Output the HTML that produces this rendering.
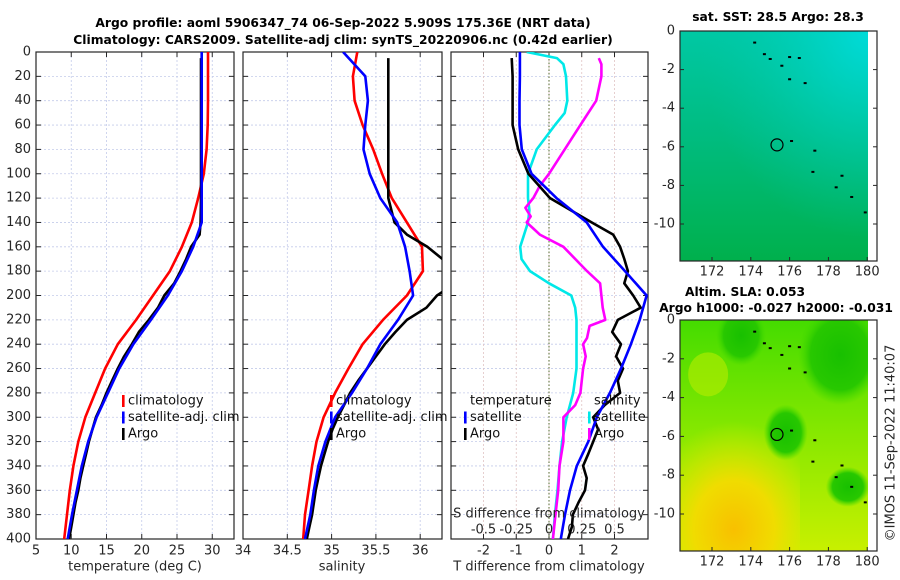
<!DOCTYPE html>
<html><head><meta charset="utf-8"><style>
html,body{margin:0;padding:0;background:#fff;width:900px;height:580px;overflow:hidden}
svg{display:block;font-family:"DejaVu Sans","Liberation Sans",sans-serif}
</style></head><body>
<svg id="fig" width="900" height="580" viewBox="0 0 900 580" xmlns="http://www.w3.org/2000/svg">
<defs>
<linearGradient id="sstg" x1="0" y1="0" x2="0" y2="1">
<stop offset="0" stop-color="#00c8a4"/><stop offset="0.45" stop-color="#00bc80"/><stop offset="1" stop-color="#00b04c"/>
</linearGradient>
<radialGradient id="sstc" cx="1" cy="0" r="0.9">
<stop offset="0" stop-color="#00dcdc" stop-opacity="0.95"/><stop offset="0.5" stop-color="#00d4c8" stop-opacity="0.45"/><stop offset="1" stop-color="#00c8b0" stop-opacity="0"/>
</radialGradient>
<linearGradient id="slag" x1="0" y1="0" x2="0" y2="1">
<stop offset="0" stop-color="#44dc00"/><stop offset="0.5" stop-color="#88e800"/><stop offset="1" stop-color="#c8f000"/>
</linearGradient>
<radialGradient id="slao" cx="0.45" cy="0.85" r="0.75">
<stop offset="0" stop-color="#f8c000"/><stop offset="0.45" stop-color="#f0dc00"/><stop offset="1" stop-color="#d8ec00" stop-opacity="0"/>
</radialGradient>
<radialGradient id="slad" cx="0.5" cy="0.5" r="0.5">
<stop offset="0" stop-color="#18c000"/><stop offset="0.7" stop-color="#28c800"/><stop offset="1" stop-color="#40d800" stop-opacity="0"/>
</radialGradient>
<clipPath id="c1"><rect x="36" y="52" width="198" height="487"/></clipPath>
<clipPath id="c2"><rect x="243" y="52" width="199" height="487"/></clipPath>
<clipPath id="c3"><rect x="451" y="52" width="197" height="487"/></clipPath>
<clipPath id="cm1"><rect x="680" y="31" width="188" height="230"/></clipPath>
<clipPath id="cm2"><rect x="680" y="320" width="188" height="231"/></clipPath>
</defs>
<g id="root"></g>
</svg>
<script>
// ---- data ----
const depths = [0,20,40,60,80,100,120,140,160,180,200,220,240,260,280,300,320,340,360,380,400];
const tempClim = [29.4,29.4,29.4,29.35,29.2,28.8,28.0,27.1,25.7,24.0,21.6,19.2,16.6,14.8,13.4,12.0,11.0,10.3,9.8,9.4,9.0];
const tempSat  = [28.5,28.5,28.5,28.5,28.5,28.5,28.5,28.5,27.3,25.7,23.7,21.3,18.8,16.8,15.2,13.6,12.4,11.5,10.8,10.1,9.5];
const argoDepths = [5,20,40,60,80,100,120,140,150,160,170,180,190,200,210,220,230,240,250,260,270,280,290,300,310,320,330,340,350,360,370,380,390,400];
const tempArgo = [28.4,28.4,28.4,28.4,28.4,28.4,28.4,28.35,28.2,27.0,26.3,25.5,24.6,23.2,22.3,21.0,19.6,18.6,17.5,16.6,15.8,15.0,14.3,13.5,13.0,12.5,12.1,11.7,11.3,11.0,10.6,10.3,10.0,9.7];
const salClim = [35.29,35.24,35.26,35.35,35.47,35.57,35.68,35.85,36.02,36.03,35.85,35.58,35.35,35.19,35.04,34.91,34.83,34.78,34.74,34.70,34.68];
const salSat  = [35.13,35.38,35.41,35.38,35.36,35.43,35.55,35.74,35.83,35.88,35.92,35.75,35.55,35.40,35.23,35.04,34.93,34.85,34.80,34.76,34.70];
const salArgo = [35.64,35.64,35.64,35.64,35.64,35.64,35.64,35.71,35.85,36.08,36.25,36.45,36.40,36.19,36.07,35.85,35.72,35.60,35.50,35.40,35.30,35.21,35.14,35.07,35.01,34.96,34.92,34.88,34.85,34.82,34.80,34.78,34.75,34.72];
const dT_sat  = [-0.89,-0.89,-0.9,-0.9,-0.83,-0.53,0.23,1.15,1.65,2.32,2.98,2.77,2.5,2.2,1.86,1.46,1.2,0.85,0.64,0.49,0.36];
const dT_argo = [-1.14,-1.11,-1.11,-1.11,-0.94,-0.63,0.03,1.3,1.96,2.17,2.3,2.41,2.3,2.57,2.8,2.1,1.93,2.2,2.05,2.26,2.1,2.17,1.7,1.35,1.5,1.35,1.2,1.04,1.15,1.1,0.9,0.73,0.7,0.58];
const dS_satDepths = [0,5,10,20,40,50,60,80,100,120,130,140,160,170,180,190,200,210,220,260,280,300,320,340,360,380,400];
const dS_sat = [-0.17,0.06,0.11,0.13,0.14,0.12,0.046,-0.094,-0.16,-0.16,-0.15,-0.16,-0.22,-0.21,-0.145,0.0,0.17,0.2,0.21,0.21,0.185,0.135,0.1,0.08,0.065,0.045,0.03];
const dS_argoDepths = [5,10,20,40,60,80,100,110,120,128,135,140,145,150,160,180,190,200,210,220,225,235,240,250,260,280,290,300,320,340,360,380,400];
const dS_argo = [0.38,0.4,0.4,0.36,0.24,0.12,0.0,-0.07,-0.12,-0.18,-0.14,-0.17,-0.12,-0.07,0.11,0.29,0.39,0.4,0.41,0.43,0.31,0.29,0.26,0.28,0.26,0.24,0.2,0.11,0.11,0.08,0.07,0.05,0.03];
const depthTicks = [0,20,40,60,80,100,120,140,160,180,200,220,240,260,280,300,320,340,360,380,400];
const tempTicks = [5,10,15,20,25,30];
const salTicks = [34,34.5,35,35.5,36];
const salTickLabels = ["34","34.5","35","35.5","36"];
const dTTicks = [-2,-1,0,1,2];
const dSTicks = [-0.5,-0.25,0,0.25,0.5];
const lonTicks = [172,174,176,178,180];
const latTicks = [0,-2,-4,-6,-8,-10];
const floatLon = [175.35];
const floatLat = [-5.9];
const dotLon = [174.2,174.7,175.0,175.6,176.0,176.5,176.0,176.8,176.1,177.3,177.2,178.7,178.4,179.2,179.9];
const dotLat = [-0.6,-1.2,-1.45,-1.8,-1.35,-1.4,-2.5,-2.7,-5.7,-6.2,-7.3,-7.5,-8.1,-8.6,-9.4];

// ---- scales ----
const NS='http://www.w3.org/2000/svg';
const root=document.getElementById('root');
const Y0=52, Y1=539;
const yD = d => Y0 + d/400*(Y1-Y0);
const xT = t => 36 + (t-5)*7.05;
const xS = s => 243 + (s-34)*88.6;
const xDT = t => 549 + t*32.75;
const xDS = s => 549 + s*131;
const mapX = lon => 680 + (lon-170.35)*19.4;
const m1Y = lat => 31 - lat*19.3;
const m2Y = lat => 320 - lat*19.4;

function el(tag, attrs, parent){
  const e=document.createElementNS(NS,tag);
  for(const k in attrs) e.setAttribute(k, attrs[k]);
  (parent||root).appendChild(e); return e;
}
function txt(x,y,s,opts,parent){
  const e=el('text',Object.assign({x:x,y:y,'font-size':13,fill:'#262626','text-anchor':'middle','dominant-baseline':'central'},opts||{}),parent);
  e.textContent=s; return e;
}
function line(xs,ys,color,name,clip){
  const pts=xs.map((x,i)=>x.toFixed(1)+','+ys[i].toFixed(1)).join(' ');
  const p=el('polyline',{points:pts,fill:'none',stroke:color,'stroke-width':2.6,'stroke-linejoin':'round','clip-path':'url(#'+clip+')'});
  
  
  return p;
}

// ---- panels ----
function panel(x0,x1,clipId,xticks,xfn,labels,gridColor,name){
  const g=el('g',{});
  
  
  depthTicks.forEach(d=>{
    if(d>0&&d<400) el('line',{x1:x0,x2:x1,y1:yD(d),y2:yD(d),stroke:'#c4cbea','stroke-width':0.8,'stroke-dasharray':'2,2'},g);
    el('line',{x1:x0,x2:x0+5,y1:yD(d),y2:yD(d),stroke:'#262626','stroke-width':1},g);
    el('line',{x1:x1-5,x2:x1,y1:yD(d),y2:yD(d),stroke:'#262626','stroke-width':1},g);
  });
  xticks.forEach((t,i)=>{
    const x=xfn(t);
    if(x>x0+1&&x<x1-1) el('line',{x1:x,x2:x,y1:Y0,y2:Y1,stroke:gridColor,'stroke-width':0.8,'stroke-dasharray':'2,2'},g);
    el('line',{x1:x,x2:x,y1:Y1-5,y2:Y1,stroke:'#262626'},g);
    el('line',{x1:x,x2:x,y1:Y0,y2:Y0+5,stroke:'#262626'},g);
    if(labels){ const tl=txt(x,551,labels[i],{},g);   }
  });
  el('rect',{x:x0,y:Y0,width:x1-x0,height:Y1-Y0,fill:'none',stroke:'#262626','stroke-width':1.2},g);
  return g;
}
panel(36,234,'c1',tempTicks,xT,tempTicks.map(String),'#c4cbea','temperature-panel');
panel(243,442,'c2',salTicks,xS,salTickLabels,'#c4cbea','salinity-panel');
panel(451,648,'c3',dTTicks,xDT,dTTicks.map(String),'#e0c4c4','difference-panel');
el('line',{x1:xDT(0),x2:xDT(0),y1:Y0,y2:Y1,stroke:'#556b2f','stroke-width':1,'stroke-dasharray':'1.5,2'});
depthTicks.forEach(d=>{ const t=txt(31,yD(d),String(d),{'text-anchor':'end'});   });
dSTicks.forEach(s=>{ const t=txt(xDS(s),530,String(s));   });

// series
line(tempClim.map(xT),depths.map(yD),'#ff0000','temp-climatology-line','c1');
line(tempArgo.map(xT),argoDepths.map(yD),'#000000','temp-argo-line','c1');
line(tempSat.map(xT),depths.map(yD),'#0000ff','temp-satellite-line','c1');
line(salClim.map(xS),depths.map(yD),'#ff0000','sal-climatology-line','c2');
line(salArgo.map(xS),argoDepths.map(yD),'#000000','sal-argo-line','c2');
line(salSat.map(xS),depths.map(yD),'#0000ff','sal-satellite-line','c2');
line(dS_sat.map(xDS),dS_satDepths.map(yD),'#00e8e8','sdiff-satellite-line','c3');
line(dS_argo.map(xDS),dS_argoDepths.map(yD),'#ff00ff','sdiff-argo-line','c3');
line(dT_argo.map(xDT),argoDepths.map(yD),'#000000','tdiff-argo-line','c3');
line(dT_sat.map(xDT),depths.map(yD),'#0000ff','tdiff-satellite-line','c3');

// legends
function legend(x,items,name){
  const g=el('g',{});
  
  
  items.forEach((it,i)=>{
    const y=401+i*16.5;
    if(it[1]) el('rect',{x:x,y:y-6,width:2.6,height:12,fill:it[1]},g);
    txt(x+6,y,it[0],{'text-anchor':'start',fill:'#111'},g);
  });
}
legend(122,[['climatology','#ff0000'],['satellite-adj. clim','#0000ff'],['Argo','#000']],'temperature-legend');
legend(330,[['climatology','#ff0000'],['satellite-adj. clim','#0000ff'],['Argo','#000']],'salinity-legend');
legend(464,[['temperature',null],['satellite','#0000ff'],['Argo','#000']],'tdiff-legend');
legend(588,[['salinity',null],['satellite','#00e8e8'],['Argo','#ff00ff']],'sdiff-legend');

// axis titles
let a;
a=txt(135,567,'temperature (deg C)');  
a=txt(342,567,'salinity');  
a=txt(549,567,'T difference from climatology');  
a=txt(549,514,'S difference from climatology');  
a=txt(343,23,'Argo profile: aoml 5906347_74 06-Sep-2022 5.909S 175.36E (NRT data)',{'font-weight':'bold','font-size':12.3,fill:'#000'});  
a=txt(343,40,'Climatology: CARS2009. Satellite-adj clim: synTS_20220906.nc (0.42d earlier)',{'font-weight':'bold','font-size':12.3,fill:'#000'});  

// ---- maps ----
function map(yfn,top,bottom,clip,kind,name){
  const g=el('g',{'clip-path':'url(#'+clip+')'});
  
  
  if(kind==='sst'){
    el('rect',{x:680,y:top,width:188,height:bottom-top,fill:'url(#sstg)'},g);
    el('rect',{x:680,y:top,width:188,height:bottom-top,fill:'url(#sstc)'},g);
  } else {
    el('rect',{x:680,y:top,width:188,height:bottom-top,fill:'url(#slag)'},g);
    el('rect',{x:680,y:yfn(-4.5),width:120,height:bottom-yfn(-4.5),fill:'url(#slao)'},g);
    el('ellipse',{cx:mapX(178.6),cy:yfn(-1.8),rx:42,ry:50,fill:'url(#slad)'},g);
    el('ellipse',{cx:mapX(173.5),cy:yfn(-0.8),rx:25,ry:30,fill:'url(#slad)'},g);
    el('ellipse',{cx:mapX(175.8),cy:yfn(-5.8),rx:22,ry:28,fill:'url(#slad)'},g);
    el('ellipse',{cx:mapX(179),cy:yfn(-8.6),rx:22,ry:20,fill:'url(#slad)'},g);
    el('ellipse',{cx:mapX(171.8),cy:yfn(-2.8),rx:20,ry:22,fill:'#b8ec00',opacity:0.6},g);
  }
  dotLon.forEach((lo,i)=>{ el('rect',{x:mapX(lo)-1.5,y:yfn(dotLat[i])-1,width:3,height:2,fill:'#000'},g); });
  floatLon.forEach((lo,i)=>{ const c=el('circle',{cx:mapX(lo),cy:yfn(floatLat[i]),r:6,fill:'none',stroke:'#000','stroke-width':1.2},g);   });
  el('rect',{x:868,y:top,width:9,height:bottom-top,fill:'#fff'});
  el('rect',{x:680,y:top,width:197,height:bottom-top,fill:'none',stroke:'#262626','stroke-width':1.2});
  lonTicks.forEach(lo=>{
    const x=mapX(lo);
    el('line',{x1:x,x2:x,y1:bottom-4,y2:bottom,stroke:'#262626'});
    const t=txt(x,bottom+11,String(lo));  
  });
  latTicks.forEach(la=>{
    const y=yfn(la);
    el('line',{x1:680,x2:684,y1:y,y2:y,stroke:'#262626'});
    el('line',{x1:873,x2:877,y1:y,y2:y,stroke:'#262626'});
    const t=txt(675,y,String(la),{'text-anchor':'end'});  
  });
}
map(m1Y,31,261,'cm1','sst','sst-map');
map(m2Y,320,551,'cm2','sla','sla-map');
a=txt(778,17,'sat. SST: 28.5 Argo: 28.3',{'font-weight':'bold','font-size':12.3,fill:'#000'});  
a=txt(745,292,'Altim. SLA: 0.053',{'font-weight':'bold','font-size':12.3,fill:'#000'});  
a=txt(776,308,'Argo h1000: -0.027 h2000: -0.031',{'font-weight':'bold','font-size':12.3,fill:'#000'});  
a=txt(891,443,'©IMOS 11-Sep-2022 11:40:07',{transform:'rotate(-90 891 443)'});  
</script>
</body></html>
